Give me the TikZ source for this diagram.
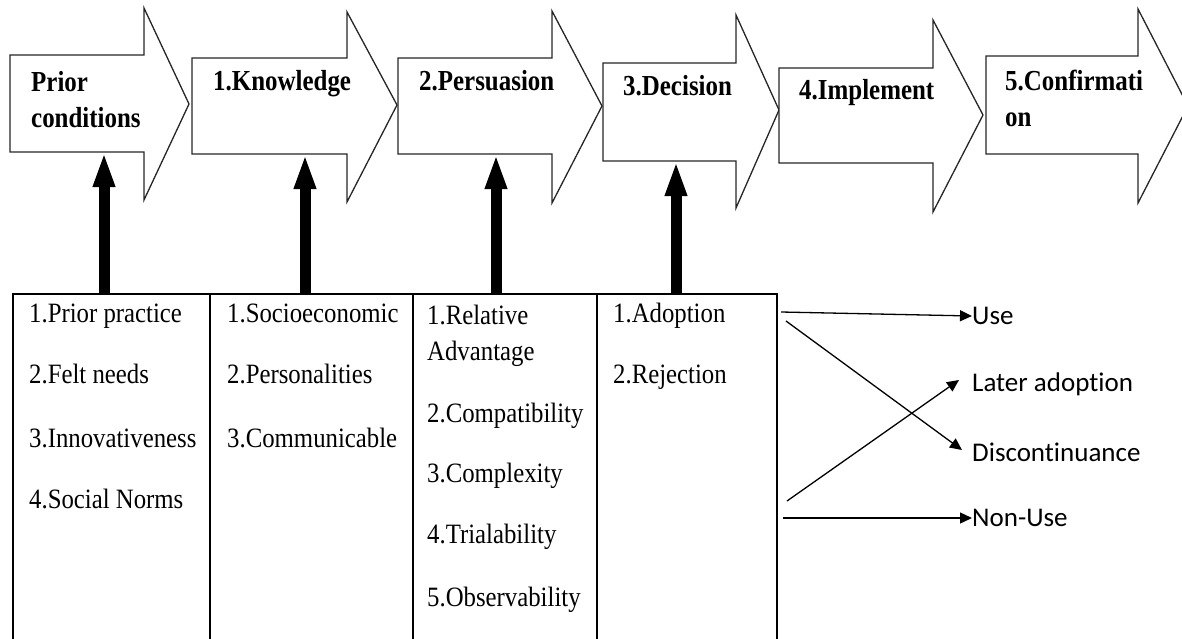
\documentclass[tikz,border=0pt]{standalone}
\usepackage{fontspec}
\setmainfont{Liberation Serif}
\newfontfamily\stagefont{Liberation Serif Bold}[FakeStretch=0.86]
\newfontfamily\cellfont{Liberation Serif}[FakeStretch=0.885]
\newfontfamily\labelfont{Carlito}[Ligatures=NoCommon]
\usetikzlibrary{arrows.meta}
\begin{document}
\begin{tikzpicture}[x=1pt,y=-1pt,
  stage/.style={draw=black!85, line width=1.3pt, fill=white, line join=miter},
  stagetext/.style={anchor=base west, inner sep=0pt, font=\stagefont\fontsize{29}{34}\selectfont},
  cell/.style={anchor=base west, inner sep=0pt, font=\cellfont\fontsize{28}{33}\selectfont},
  grid/.style={draw=black, line width=1.3pt},
  push/.style={line width=11pt, -{Triangle[length=35pt,width=20pt]}},
  outcome/.style={line width=1.3pt, -{Triangle[length=12pt,width=11pt]}},
  result/.style={anchor=west, inner sep=0pt, font=\labelfont\fontsize{27}{32}\selectfont}]
\useasboundingbox (0,0) rectangle (1182,639);
\clip (0,0) rectangle (1182,639);

% stage block arrows: body left/top/bottom, head x/top/bottom, tip
\draw[stage] (10,55) -- (144,55) -- (144,8) -- (189,104) -- (144,200) -- (144,152) -- (10,152) -- cycle;
\draw[stage] (192,58) -- (347,58) -- (347,12) -- (397,105) -- (347,202) -- (347,154) -- (192,154) -- cycle;
\draw[stage] (398,58) -- (552,58) -- (552,11) -- (602,106) -- (552,203) -- (552,154) -- (398,154) -- cycle;
\draw[stage] (603,63) -- (736,63) -- (736,15) -- (779,110) -- (736,208) -- (736,161) -- (603,161) -- cycle;
\draw[stage] (779,68) -- (933,68) -- (933,20) -- (983,115) -- (933,212) -- (933,163) -- (779,163) -- cycle;
\draw[stage] (986,56) -- (1138,56) -- (1138,9) -- (1188,106) -- (1138,203) -- (1138,154) -- (986,154) -- cycle;

% stage bottoms receiving the influence arrows
\coordinate (s0) at (104,152);
\coordinate (s1) at (305,154);
\coordinate (s2) at (496,154);
\coordinate (s3) at (676,161);

% stage titles
\node[stagetext] (t0a) at (31,92) {Prior};
\node[stagetext] (t0b) at (31,128) {conditions};
\node[stagetext] (t1) at (213,91) {1.Knowledge};
\node[stagetext] (t2) at (419,91) {2.Persuasion};
\node[stagetext] (t3) at (623,96) {3.Decision};
\node[stagetext] (t4) at (799,100) {4.Implement};
\node[stagetext] (t5a) at (1005,91) {5.Confirmati};
\node[stagetext] (t5b) at (1005,127) {on};

% table of factors
\draw[grid] (13,294) rectangle (777,660);
\draw[grid] (210,294) -- (210,660);
\draw[grid] (413,294) -- (413,660);
\draw[grid] (597,294) -- (597,660);

\coordinate (c0) at (104,294);
\coordinate (c1) at (305,294);
\coordinate (c2) at (496,294);
\coordinate (c3) at (676,294);

% influence arrows from table columns into stages
\draw[push] (c0) -- (s0);
\draw[push] (c1) -- (s1);
\draw[push] (c2) -- (s2);
\draw[push] (c3) -- (s3);

% column 1
\node[cell] (p1) at (29,322) {1.Prior practice};
\node[cell] (p2) at (29,383) {2.Felt needs};
\node[cell] (p3) at (29,447) {3.Innovativeness};
\node[cell] (p4) at (29,508) {4.Social Norms};
% column 2
\node[cell] (k1) at (227,322) {1.Socioeconomic};
\node[cell] (k2) at (227,383) {2.Personalities};
\node[cell] (k3) at (227,447) {3.Communicable};
% column 3
\node[cell] (r1) at (427,324) {1.Relative};
\node[cell] (r1b) at (427,360) {Advantage};
\node[cell] (r2) at (427,422) {2.Compatibility};
\node[cell] (r3) at (427,482) {3.Complexity};
\node[cell] (r4) at (427,543) {4.Trialability};
\node[cell] (r5) at (427,606) {5.Observability};
% column 4
\node[cell] (d1) at (613,322) {1.Adoption};
\node[cell] (d2) at (613,383) {2.Rejection};

% outcomes
\node[result] (use) at (972,316) {Use};
\node[result] (later) at (972,384) {Later adoption};
\node[result] (disc) at (972,452) {Discontinuance};
\node[result] (non) at (972,518) {Non-Use};

\coordinate (o1) at (781,312);
\coordinate (o2) at (786,321);
\coordinate (o3) at (787,501);
\coordinate (o4) at (783,518);

\draw[outcome] (o1) -- (use.west);
\draw[outcome] (o2) -- ([xshift=-10pt,yshift=2pt]disc.west);
\draw[outcome] (o3) -- ([xshift=-13pt,yshift=4pt]later.west);
\draw[outcome] (o4) -- (non.west);
\end{tikzpicture}
\end{document}
